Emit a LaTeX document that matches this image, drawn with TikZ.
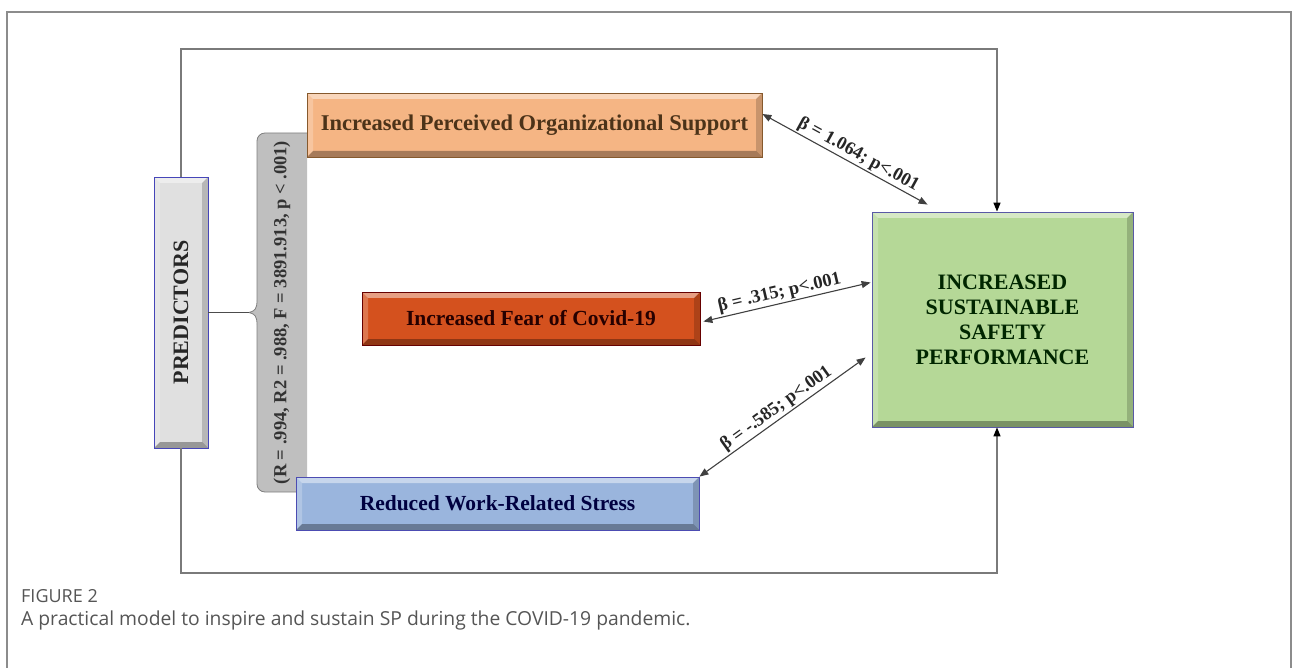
\documentclass[tikz,border=0pt]{standalone}
\usepackage{fontspec}
\setmainfont{Liberation Serif}
\newfontfamily\capfont{Open Sans}
\usepackage{xcolor}
\usepackage{tikz}
\usetikzlibrary{positioning,calc,arrows.meta}

\definecolor{pageGray}{HTML}{8C8C8C}
\definecolor{frameGray}{HTML}{7A7A7A}
\definecolor{supportFill}{HTML}{F5B584}
\definecolor{fearFill}{HTML}{D4511E}
\definecolor{stressFill}{HTML}{9AB5DD}
\definecolor{safetyFill}{HTML}{B5D897}
\definecolor{predFill}{HTML}{E0E0E0}
\definecolor{tabFill}{HTML}{BFBFBF}
\definecolor{capGray}{HTML}{555555}

\tikzset{
  bevel/.style={path picture={
    \fill[white,opacity=.45] (path picture bounding box.north west) -- (path picture bounding box.north east)
      -- ([shift={(-#1,-#1)}]path picture bounding box.north east) -- ([shift={(#1,-#1)}]path picture bounding box.north west) -- cycle;
    \fill[white,opacity=.22] (path picture bounding box.north west) -- (path picture bounding box.south west)
      -- ([shift={(#1,#1)}]path picture bounding box.south west) -- ([shift={(#1,-#1)}]path picture bounding box.north west) -- cycle;
    \fill[black,opacity=.32] (path picture bounding box.south west) -- (path picture bounding box.south east)
      -- ([shift={(-#1,#1)}]path picture bounding box.south east) -- ([shift={(#1,#1)}]path picture bounding box.south west) -- cycle;
    \fill[black,opacity=.18] (path picture bounding box.north east) -- (path picture bounding box.south east)
      -- ([shift={(-#1,#1)}]path picture bounding box.south east) -- ([shift={(-#1,-#1)}]path picture bounding box.north east) -- cycle;
  }},
  bevel/.default=6pt,
  factor/.style={rectangle, inner sep=0pt, bevel, line width=.8pt,
    font=\bfseries\fontsize{21.5}{24}\selectfont},
  predbox/.style={factor, fill=predFill, draw=blue!45!gray, text=black!85,
    minimum width=54pt, minimum height=271pt, font=\bfseries\fontsize{22}{24}\selectfont},
  outcome/.style={factor, fill=safetyFill, draw=blue!30!gray, text=black!85!green,
    minimum width=261pt, minimum height=215pt, align=center,
    font=\bfseries\fontsize{22}{25}\selectfont},
  tab/.style={fill=tabFill, draw=gray, line width=.8pt},
  tabline/.style={draw=black!70, line width=1.2pt},
  frame/.style={draw=frameGray, line width=1.4pt},
  pageline/.style={draw=pageGray, line width=1.5pt},
  link/.style={<->, draw=black!75, line width=1.1pt},
  beta/.style={sloped, above, inner sep=1.5pt, text=black!85, font=\bfseries\fontsize{18.5}{20}\selectfont},
  capfig/.style={anchor=west, inner sep=0pt, text=capGray, font=\capfont\fontsize{18}{20}\selectfont},
  captext/.style={anchor=west, inner sep=0pt, text=capGray, font=\capfont\fontsize{19.3}{22}\selectfont}
}

\begin{document}
\begin{tikzpicture}[x=1pt,y=-1pt,>={Triangle[length=9pt,width=7pt]}]
    \useasboundingbox (0,0) rectangle (1293,668);

    % page border
    \draw[pageline] (7,668) -- (7,12) -- (1291,12) -- (1291,668);

    % stats tab behind the factor boxes
    \filldraw[tab] (307,133) -- (265,133) to[out=180,in=90] (257,141) -- (257,300)
        .. controls (257,309) and (255,311) .. (249,312.5)
        .. controls (255,314) and (257,316) .. (257,325) -- (257,484)
        to[out=-90,in=180] (265,492) -- (307,492);
    \node[inner sep=0pt, text=black!80, font=\bfseries\fontsize{18.5}{20}\selectfont] (stats) at (282,312.5)
        {\rotatebox{90}{(R = .994, R2 = .988, F = 3891.913, p < .001)}};
    \coordinate (cusp) at (249,312.5);

    % boxes
    \node[predbox] (pred) at (181,312.5) {\rotatebox{90}{PREDICTORS}};
    \node[factor, fill=supportFill, draw=brown!70!black, text=brown!40!black,
        minimum width=455pt, minimum height=64pt, font=\bfseries\fontsize{22.5}{24}\selectfont] (support) at (534.5,125)
        {Increased Perceived Organizational Support};
    \node[factor, fill=fearFill, draw=red!40!black, text=black!85!red,
        minimum width=338pt, minimum height=53pt] (fear) at (531,318.5)
        {Increased Fear of Covid-19};
    \node[factor, fill=stressFill, draw=blue!40!gray, text=blue!25!black,
        minimum width=403pt, minimum height=53pt] (stress) at (497.5,503.5)
        {Reduced Work-Related Stress};
    \node[outcome] (safety) at (1002.5,319.5)
        {INCREASED\\SUSTAINABLE\\SAFETY\\PERFORMANCE};

    % frame around the model
    \coordinate (gn) at ([xshift=-5.5pt]safety.north);
    \coordinate (gs) at ([xshift=-5.5pt]safety.south);
    \draw[frame, -{Triangle[length=9pt,width=7pt,black]}] (pred.north) |- (gn |- 0,49) -- (gn);
    \draw[frame, -{Triangle[length=9pt,width=7pt,black]}] (pred.south) |- (gs |- 0,573) -- (gs);
    \draw[tabline] (pred.east) -- (cusp);

    % effects
    \draw[link] ([yshift=11pt]support.east) -- ([shift={(56pt,7pt)}]safety.north west)
        node[beta, pos=.55] {β = 1.064; p<.001};
    \draw[link] ([xshift=3pt,yshift=-3pt]fear.east) -- ([xshift=-1pt,yshift=37pt]safety.west)
        node[beta, pos=.47] {β = .315; p<.001};
    \draw[link] (stress.north east) -- ([xshift=-6pt,yshift=-38pt]safety.west)
        node[beta, pos=.5] {β = -.585; p<.001};

    % caption
    \node[capfig] (figno) at (21,596) {FIGURE 2};
    \node[captext] (figtxt) at (21,620) {A practical model to inspire and sustain SP during the COVID-19 pandemic.};
\end{tikzpicture}
\end{document}
